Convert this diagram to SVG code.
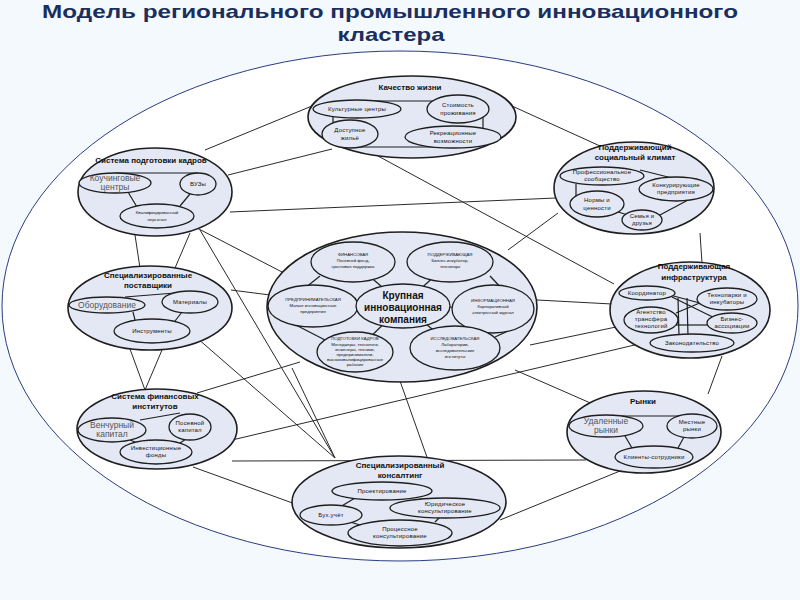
<svg xmlns="http://www.w3.org/2000/svg" width="800" height="600" viewBox="0 0 800 600">
<defs>
<style>
.big{fill:#e3e8f4;stroke:#1e1e1e;stroke-width:1.6}
.sm{fill:#e3e8f4;stroke:#1e1e1e;stroke-width:1.3}
.in{stroke:#1e1e1e;stroke-width:1.2;fill:none}
.con{stroke:#2a2a2a;stroke-width:1;fill:none}
.t{font-family:"Liberation Sans",Arial,sans-serif;font-weight:bold;font-size:8px;fill:#111;text-anchor:middle}
.c{font-family:"Liberation Sans",Arial,sans-serif;font-weight:bold;font-size:10px;fill:#111;text-anchor:middle}
.s{font-family:"Liberation Sans",Arial,sans-serif;font-size:6px;letter-spacing:0.2px;fill:#111;text-anchor:middle}
.x{font-family:"Liberation Sans",Arial,sans-serif;font-size:4.3px;fill:#111;text-anchor:middle}
.g{font-family:"Liberation Sans",Arial,sans-serif;font-size:8.5px;fill:#555;text-anchor:middle}
.ttl{font-family:"Liberation Sans",Arial,sans-serif;font-weight:bold;font-size:19px;fill:#1b2f5e;text-anchor:middle}
</style>
</defs>
<rect width="800" height="600" fill="#f3f9fc"/>
<text class="ttl" x="390" y="18" textLength="696" lengthAdjust="spacingAndGlyphs">Модель регионального промышленного инновационного</text>
<text class="ttl" x="391" y="41" textLength="107" lengthAdjust="spacingAndGlyphs">кластера</text>
<ellipse cx="400" cy="306" rx="398" ry="255" fill="#ffffff" stroke="#2b3d80" stroke-width="1"/>

<g id="connectors">
<line class="con" x1="205" y1="150" x2="312" y2="106"/>
<line class="con" x1="228" y1="175" x2="332" y2="149"/>
<line class="con" x1="512" y1="106" x2="600" y2="146"/>
<line class="con" x1="230" y1="212" x2="556" y2="198"/>
<line class="con" x1="378" y1="156" x2="614" y2="284"/>
<line class="con" x1="197" y1="228" x2="282" y2="272"/>
<line class="con" x1="135" y1="235" x2="140" y2="268"/>
<line class="con" x1="190" y1="233" x2="175" y2="268"/>
<line class="con" x1="200" y1="230" x2="335" y2="458"/>
<line class="con" x1="231" y1="290" x2="270" y2="295"/>
<line class="con" x1="197" y1="338" x2="335" y2="458"/>
<line class="con" x1="130" y1="349" x2="145" y2="390"/>
<line class="con" x1="162" y1="350" x2="145" y2="390"/>
<line class="con" x1="197" y1="393" x2="300" y2="362"/>
<line class="con" x1="232" y1="440" x2="643" y2="343"/>
<line class="con" x1="232" y1="461" x2="586" y2="460"/>
<line class="con" x1="193" y1="467" x2="298" y2="505"/>
<line class="con" x1="500" y1="520" x2="620" y2="471"/>
<line class="con" x1="515" y1="370" x2="595" y2="405"/>
<line class="con" x1="537" y1="300" x2="612" y2="304"/>
<line class="con" x1="530" y1="345" x2="616" y2="327"/>
<line class="con" x1="558" y1="213" x2="508" y2="250"/>
<line class="con" x1="700" y1="233" x2="702" y2="263"/>
<line class="con" x1="722" y1="356" x2="708" y2="394"/>
<line class="con" x1="400" y1="381" x2="428" y2="460"/>
<line class="con" x1="292" y1="368" x2="335" y2="458"/>
</g>

<g id="kachestvo">
<ellipse class="big" cx="412" cy="117" rx="104" ry="41"/>
<line class="in" x1="357" y1="101" x2="458" y2="101"/>
<line class="in" x1="333" y1="110" x2="333" y2="130"/>
<line class="in" x1="483" y1="112" x2="483" y2="132"/>
<line class="in" x1="350" y1="147" x2="453" y2="147"/>
<text class="t" x="410" y="90">Качество жизни</text>
<ellipse class="sm" cx="357" cy="109" rx="44" ry="9"/>
<text class="s" x="357" y="111">Культурные центры</text>
<ellipse class="sm" cx="458" cy="109" rx="31" ry="14"/>
<text class="s" x="458" y="107">Стоимость</text>
<text class="s" x="458" y="115">проживания</text>
<ellipse class="sm" cx="350" cy="134" rx="28" ry="14"/>
<text class="s" x="350" y="132">Доступное</text>
<text class="s" x="350" y="140">жильё</text>
<ellipse class="sm" cx="453" cy="137" rx="48" ry="11"/>
<text class="s" x="453" y="135">Рекреационные</text>
<text class="s" x="453" y="143">возможности</text>
</g>

<g id="kadry">
<ellipse class="big" cx="155" cy="192" rx="77" ry="44"/>
<line class="in" x1="115" y1="173" x2="198" y2="173"/>
<line class="in" x1="128" y1="192" x2="137" y2="207"/>
<line class="in" x1="190" y1="194" x2="180" y2="206"/>
<text class="t" x="151" y="163">Система подготовки кадров</text>
<ellipse class="sm" cx="115" cy="183" rx="36" ry="10"/>
<text class="g" x="115" y="181">Коучинговые</text>
<text class="g" x="115" y="190">центры</text>
<ellipse class="sm" cx="198" cy="184" rx="18" ry="11"/>
<text class="s" x="198" y="186">ВУЗы</text>
<ellipse class="sm" cx="157" cy="216" rx="37" ry="12"/>
<text class="x" x="157" y="214">Квалифицированный</text>
<text class="x" x="157" y="221">персонал</text>
</g>

<g id="klimat">
<ellipse class="big" cx="634" cy="188" rx="80" ry="46"/>
<line class="in" x1="640" y1="170" x2="672" y2="178"/>
<line class="in" x1="576" y1="184" x2="576" y2="198"/>
<line class="in" x1="618" y1="212" x2="628" y2="215"/>
<line class="in" x1="658" y1="216" x2="690" y2="199"/>
<text class="t" x="635" y="150">Поддерживающий</text>
<text class="t" x="635" y="160">социальный климат</text>
<ellipse class="sm" cx="602" cy="176" rx="42" ry="9"/>
<text class="s" x="602" y="174">Профессиональное</text>
<text class="s" x="602" y="181">сообщество</text>
<ellipse class="sm" cx="676" cy="189" rx="37" ry="12"/>
<text class="s" x="676" y="187">Конкурирующие</text>
<text class="s" x="676" y="194">предприятия</text>
<ellipse class="sm" cx="597" cy="204" rx="27" ry="13"/>
<text class="s" x="597" y="202">Нормы и</text>
<text class="s" x="597" y="210">ценности</text>
<ellipse class="sm" cx="642" cy="220" rx="20" ry="10"/>
<text class="s" x="642" y="218">Семья и</text>
<text class="s" x="642" y="225">друзья</text>
</g>

<g id="center">
<ellipse class="big" cx="402" cy="307" rx="135" ry="75"/>
<line class="in" x1="353" y1="262" x2="403" y2="305"/>
<line class="in" x1="450" y1="262" x2="403" y2="305"/>
<line class="in" x1="313" y1="306" x2="403" y2="305"/>
<line class="in" x1="493" y1="309" x2="403" y2="305"/>
<line class="in" x1="355" y1="352" x2="403" y2="305"/>
<line class="in" x1="455" y1="348" x2="403" y2="305"/>
<line class="in" x1="300" y1="292" x2="320" y2="276"/>
<line class="in" x1="490" y1="276" x2="505" y2="292"/>
<line class="in" x1="290" y1="322" x2="325" y2="340"/>
<line class="in" x1="495" y1="337" x2="510" y2="330"/>
<ellipse class="sm" cx="353" cy="262" rx="42" ry="20"/>
<text class="x" x="353" y="256">ФИНАНСОВАЯ</text>
<text class="x" x="353" y="262">Посевной фонд,</text>
<text class="x" x="353" y="268">грантовая поддержка</text>
<ellipse class="sm" cx="450" cy="262" rx="43" ry="20"/>
<text class="x" x="450" y="256">ПОДДЕРЖИВАЮЩАЯ</text>
<text class="x" x="450" y="262">Бизнес-инкубатор,</text>
<text class="x" x="450" y="268">технопарк</text>
<ellipse class="sm" cx="313" cy="306" rx="45" ry="21"/>
<text class="x" x="313" y="301">ПРЕДПРИНИМАТЕЛЬСКАЯ</text>
<text class="x" x="313" y="307">Малые инновационные</text>
<text class="x" x="313" y="313">предприятия</text>
<ellipse class="sm" cx="493" cy="309" rx="41" ry="24"/>
<text class="x" x="493" y="302">ИНФОРМАЦИОННАЯ</text>
<text class="x" x="493" y="308">Корпоративный</text>
<text class="x" x="493" y="314">электронный журнал</text>
<ellipse class="sm" cx="355" cy="352" rx="38" ry="20"/>
<text class="x" x="355" y="340">ПОДГОТОВКИ КАДРОВ</text>
<text class="x" x="355" y="346">Менеджеры, технологи,</text>
<text class="x" x="355" y="351">инженеры, техники,</text>
<text class="x" x="355" y="356">предприниматели,</text>
<text class="x" x="355" y="361">высококвалифицированные</text>
<text class="x" x="355" y="366">рабочие</text>
<ellipse class="sm" cx="455" cy="348" rx="45" ry="22"/>
<text class="x" x="455" y="340">ИССЛЕДОВАТЕЛЬСКАЯ</text>
<text class="x" x="455" y="346">Лаборатории,</text>
<text class="x" x="455" y="352">исследовательские</text>
<text class="x" x="455" y="358">институты</text>
<ellipse class="sm" cx="403" cy="306" rx="47" ry="22"/>
<text class="c" x="403" y="299">Крупная</text>
<text class="c" x="403" y="311">инновационная</text>
<text class="c" x="403" y="323">компания</text>
</g>

<g id="postavshiki">
<ellipse class="big" cx="150" cy="308" rx="82" ry="42"/>
<line class="in" x1="125" y1="297" x2="175" y2="293"/>
<line class="in" x1="133" y1="312" x2="135" y2="320"/>
<line class="in" x1="182" y1="312" x2="175" y2="321"/>
<text class="t" x="148" y="278">Специализированные</text>
<text class="t" x="148" y="288">поставщики</text>
<ellipse class="sm" cx="107" cy="305" rx="38" ry="8"/>
<text class="g" x="107" y="308">Оборудование</text>
<ellipse class="sm" cx="190" cy="302" rx="28" ry="11"/>
<text class="s" x="190" y="304">Материалы</text>
<ellipse class="sm" cx="152" cy="331" rx="38" ry="12"/>
<text class="s" x="152" y="333">Инструменты</text>
</g>

<g id="infra">
<ellipse class="big" cx="690" cy="310" rx="80" ry="48"/>
<line class="in" x1="670" y1="295" x2="707" y2="305"/>
<line class="in" x1="672" y1="297" x2="733" y2="327"/>
<line class="in" x1="676" y1="313" x2="702" y2="302"/>
<line class="in" x1="678" y1="298" x2="679" y2="336"/>
<line class="in" x1="687" y1="298" x2="688" y2="336"/>
<line class="in" x1="676" y1="325" x2="708" y2="325"/>
<text class="t" x="694" y="269">Поддерживающая</text>
<text class="t" x="694" y="280">инфраструктура</text>
<ellipse class="sm" cx="647" cy="293" rx="28" ry="7"/>
<text class="s" x="647" y="295">Координатор</text>
<ellipse class="sm" cx="727" cy="299" rx="30" ry="11"/>
<text class="s" x="727" y="297">Технопарки и</text>
<text class="s" x="727" y="304">инкубаторы</text>
<ellipse class="sm" cx="651" cy="320" rx="27" ry="13"/>
<text class="s" x="651" y="314">Агентство</text>
<text class="s" x="651" y="321">трансфера</text>
<text class="s" x="651" y="328">технологий</text>
<ellipse class="sm" cx="732" cy="323" rx="25" ry="10"/>
<text class="s" x="732" y="321">Бизнес-</text>
<text class="s" x="732" y="328">ассоциации</text>
<ellipse class="sm" cx="692" cy="343" rx="42" ry="9"/>
<text class="s" x="692" y="345">Законодательство</text>
</g>

<g id="finansy">
<ellipse class="big" cx="157" cy="429" rx="80" ry="40"/>
<line class="in" x1="140" y1="420" x2="180" y2="413"/>
<line class="in" x1="130" y1="440" x2="135" y2="442"/>
<line class="in" x1="186" y1="439" x2="180" y2="443"/>
<text class="t" x="155" y="399">Система финансовых</text>
<text class="t" x="155" y="409">институтов</text>
<ellipse class="sm" cx="112" cy="430" rx="34" ry="12"/>
<text class="g" x="112" y="428">Венчурный</text>
<text class="g" x="112" y="437">капитал</text>
<ellipse class="sm" cx="190" cy="427" rx="21" ry="13"/>
<text class="s" x="190" y="425">Посевной</text>
<text class="s" x="190" y="432">капитал</text>
<ellipse class="sm" cx="156" cy="452" rx="36" ry="12"/>
<text class="s" x="156" y="450">Инвестиционные</text>
<text class="s" x="156" y="457">фонды</text>
</g>

<g id="rynki">
<ellipse class="big" cx="644" cy="432" rx="77" ry="41"/>
<line class="in" x1="606" y1="416" x2="692" y2="416"/>
<line class="in" x1="625" y1="436" x2="632" y2="448"/>
<line class="in" x1="684" y1="437" x2="678" y2="448"/>
<text class="t" x="643" y="404">Рынки</text>
<ellipse class="sm" cx="606" cy="426" rx="37" ry="11"/>
<text class="g" x="606" y="424">Удаленные</text>
<text class="g" x="606" y="433">рынки</text>
<ellipse class="sm" cx="692" cy="426" rx="25" ry="12"/>
<text class="s" x="692" y="424">Местные</text>
<text class="s" x="692" y="431">рынки</text>
<ellipse class="sm" cx="654" cy="457" rx="39" ry="11"/>
<text class="s" x="654" y="459">Клиенты-сотрудники</text>
</g>

<g id="konsalting">
<ellipse class="big" cx="399" cy="502" rx="107" ry="46"/>
<line class="in" x1="355" y1="498" x2="340" y2="507"/>
<line class="in" x1="420" y1="499" x2="430" y2="500"/>
<line class="in" x1="350" y1="522" x2="360" y2="525"/>
<line class="in" x1="440" y1="517" x2="435" y2="522"/>
<text class="t" x="400" y="468">Специализированный</text>
<text class="t" x="400" y="478">консалтинг</text>
<ellipse class="sm" cx="382" cy="491" rx="50" ry="9"/>
<text class="s" x="382" y="493">Проектирование</text>
<ellipse class="sm" cx="445" cy="508" rx="55" ry="10"/>
<text class="s" x="445" y="506">Юридическое</text>
<text class="s" x="445" y="513">консультирование</text>
<ellipse class="sm" cx="331" cy="515" rx="31" ry="10"/>
<text class="s" x="331" y="517">Бух.учёт</text>
<ellipse class="sm" cx="400" cy="533" rx="52" ry="13"/>
<text class="s" x="400" y="531">Процессное</text>
<text class="s" x="400" y="538">консультирование</text>
</g>
</svg>
